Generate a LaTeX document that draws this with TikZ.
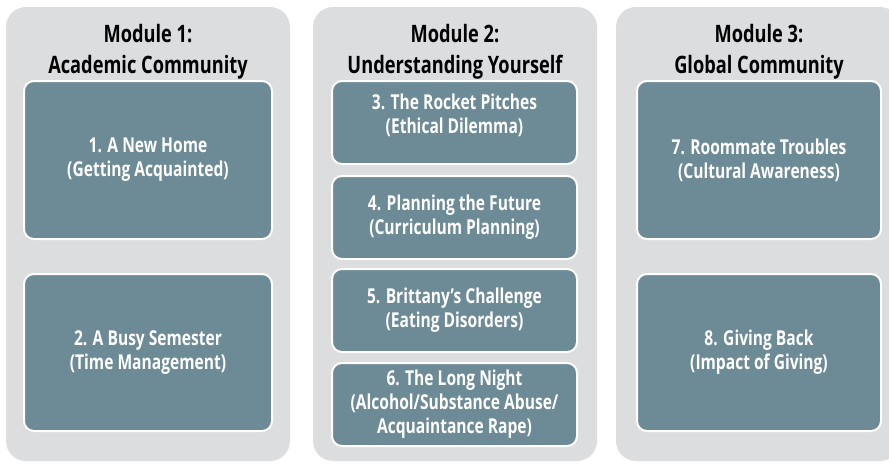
\documentclass[tikz,border=0pt]{standalone}
\usepackage{fontspec}
\setmainfont{Open Sans}[FakeStretch=0.76]
\usepackage{tikz}
\usetikzlibrary{positioning}

\definecolor{panelgrey}{RGB}{220, 221, 223}
\definecolor{caseteal}{RGB}{108, 139, 150}

\tikzset{
  modpanel/.style={fill=panelgrey, rounded corners=20pt, minimum width=284pt, minimum height=454pt, inner sep=0pt},
  modtitle/.style={align=center, font=\fontsize{24}{31}\selectfont\bfseries, text=black},
  casebox/.style={draw=white, line width=2pt, fill=caseteal, rounded corners=10pt, inner sep=0pt,
    align=center, text=white, font=\fontsize{20.5}{24}\selectfont\bfseries},
}

\begin{document}
\begin{tikzpicture}[x=1pt, y=-1pt]
  \clip (0, 0) rectangle (889, 464);

  % Module panels
  \node[modpanel] (mod1) at (148, 234) {};
  \node[modpanel] (mod2) at (455, 234) {};
  \node[modpanel] (mod3) at (758, 234) {};

  % Module 1
  \node[modtitle] (title1) at (148, 52) {Module 1:\\Academic Community};
  \node[casebox, minimum width=248pt, minimum height=158pt] (case1) at (148, 160) {1. A New Home\\(Getting Acquainted)};
  \node[casebox, minimum width=248pt, minimum height=157pt] (case2) at (148, 352.5) {2. A Busy Semester\\(Time Management)};

  % Module 2
  \node[modtitle] (title2) at (455, 52) {Module 2:\\Understanding Yourself};
  \node[casebox, minimum width=245pt, minimum height=83pt, text depth=18pt] (case3) at (454.5, 122.5) {3. The Rocket Pitches\\(Ethical Dilemma)};
  \node[casebox, minimum width=245pt, minimum height=83pt] (case4) at (454.5, 217.5) {4. Planning the Future\\(Curriculum Planning)};
  \node[casebox, minimum width=245pt, minimum height=83pt] (case5) at (454.5, 310.5) {5. Brittany’s Challenge\\(Eating Disorders)};
  \node[casebox, minimum width=245pt, minimum height=83pt] (case6) at (454.5, 404.5) {6. The Long Night\\(Alcohol/Substance Abuse/\\Acquaintance Rape)};

  % Module 3
  \node[modtitle] (title3) at (759, 52) {Module 3:\\Global Community};
  \node[casebox, minimum width=244pt, minimum height=158pt] (case7) at (759, 160) {7. Roommate Troubles\\(Cultural Awareness)};
  \node[casebox, minimum width=244pt, minimum height=157pt] (case8) at (759, 352.5) {8. Giving Back\\(Impact of Giving)};
\end{tikzpicture}
\end{document}
